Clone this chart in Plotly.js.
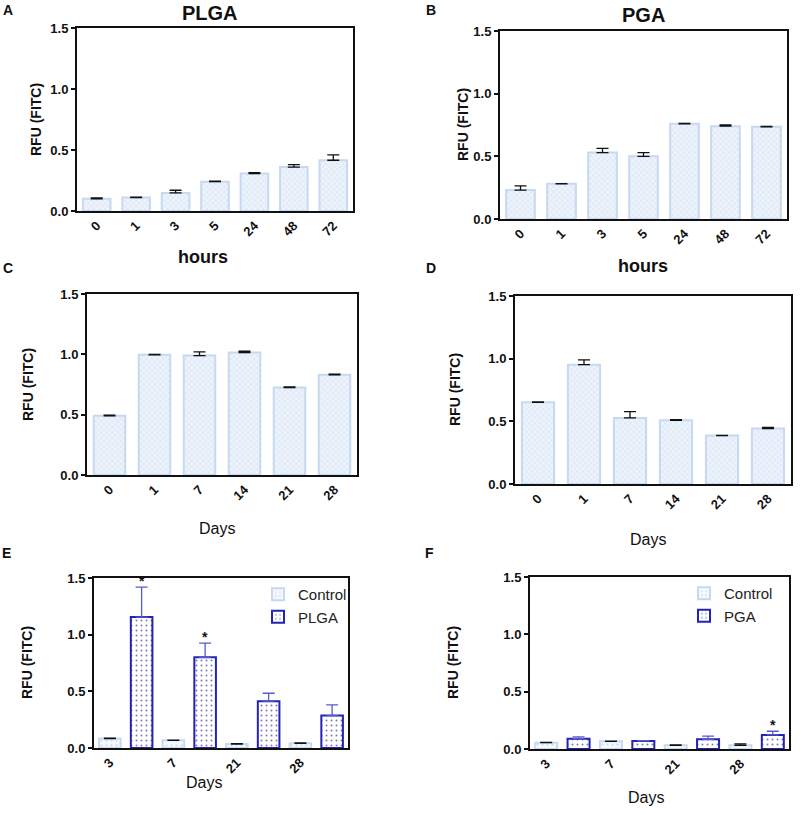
<!DOCTYPE html>
<html>
<head>
<meta charset="utf-8">
<script src="https://cdn.plot.ly/plotly-3.0.1.min.js"></script>
<style>
  html, body { margin: 0; padding: 0; background: #fff; }
  #chart { width: 800px; height: 814px; }
</style>
</head>
<body>
<div id="chart"></div>
<script>
// ===== data =====
const hoursCats = ["0", "1", "3", "5", "24", "48", "72"];
const daysCats = ["0", "1", "7", "14", "21", "28"];
const groupDays = ["3", "7", "21", "28"];

// A: PLGA (hours)
const plgaHours = [0.10, 0.11, 0.148, 0.24, 0.307, 0.36, 0.416];
const plgaHoursErr = [0.007, 0.003, 0.022, 0.004, 0.008, 0.02, 0.044];
// B: PGA (hours)
const pgaHours = [0.231, 0.281, 0.53, 0.50, 0.76, 0.741, 0.736];
const pgaHoursErr = [0.034, 0.002, 0.033, 0.03, 0.003, 0.01, 0.002];
// C: PLGA (days)
const plgaDays = [0.49, 0.996, 0.99, 1.015, 0.725, 0.83];
const plgaDaysErr = [0.006, 0.004, 0.03, 0.012, 0.005, 0.005];
// D: PGA (days)
const pgaDays = [0.652, 0.952, 0.527, 0.508, 0.386, 0.442];
const pgaDaysErr = [0.004, 0.038, 0.05, 0.005, 0.002, 0.01];
// E: Control vs PLGA
const ctrlE = [0.083, 0.068, 0.035, 0.041];
const ctrlEErr = [0.005, 0.002, 0.003, 0.003];
const plgaE = [1.155, 0.80, 0.413, 0.286];
const plgaEErr = [0.265, 0.125, 0.07, 0.094];
const starsE = [true, true, false, false];
// F: Control vs PGA
const ctrlF = [0.055, 0.067, 0.032, 0.032];
const ctrlFErr = [0.003, 0.002, 0.003, 0.012];
const pgaF = [0.09, 0.07, 0.085, 0.123];
const pgaFErr = [0.015, 0.002, 0.028, 0.032];
const starsF = [false, false, false, true];

// ===== helpers =====
const W = 800, H = 814;
const FONT = "Liberation Sans, Arial, sans-serif";
const dx = (a, b) => [a / W, b / W];
const dy = (top, bot) => [1 - bot / H, 1 - top / H];

const LIGHT_LINE = "#c6d9f1";
const DARK_BLUE = "#2323b8";

function lightBar(xs, ys, err, xa, ya, extra) {
  return Object.assign({
    type: "bar", x: xs, y: ys, xaxis: xa, yaxis: ya, width: 0.7,
    marker: {
      color: "#e6eef9",
      line: { color: LIGHT_LINE, width: 2 },
      pattern: { shape: "x", fgcolor: "#bcd2ee", bgcolor: "#edf3fb", size: 4, solidity: 0.15 }
    },
    error_y: { type: "data", symmetric: false, array: err, arrayminus: err.map(() => 0),
               color: "#111", thickness: 1.3, width: 6 },
    showlegend: false, hoverinfo: "skip"
  }, extra || {});
}

function darkBar(xs, ys, err, xa, ya, extra) {
  return Object.assign({
    type: "bar", x: xs, y: ys, xaxis: xa, yaxis: ya, width: 0.68,
    marker: {
      color: "#ffffff",
      line: { color: DARK_BLUE, width: 2 },
      pattern: { shape: ".", fgcolor: "#7a7ab8", bgcolor: "#ffffff", size: 5, solidity: 0.12 }
    },
    error_y: { type: "data", symmetric: false, array: err, arrayminus: err.map(() => 0),
               color: "#5a5ad0", thickness: 1.3, width: 6 },
    showlegend: false, hoverinfo: "skip"
  }, extra || {});
}

function xAxis(domain, anchor, extra) {
  return Object.assign({
    domain: domain, anchor: anchor, type: "category",
    showline: true, mirror: true, linecolor: "#111", linewidth: 2,
    ticks: "", tickangle: -45, tickfont: { family: FONT, size: 13, color: "#111", weight: "bold" },
    showgrid: false, zeroline: false, fixedrange: true
  }, extra || {});
}

function yAxis(domain, anchor) {
  return {
    domain: domain, anchor: anchor, range: [0, 1.5], tickvals: [0, 0.5, 1, 1.5],
    ticktext: ["0.0", "0.5", "1.0", "1.5"],
    showline: true, mirror: true, linecolor: "#111", linewidth: 2,
    ticks: "outside", ticklen: 4, tickwidth: 2, tickcolor: "#111",
    tickfont: { family: FONT, size: 13, color: "#111", weight: "bold" },
    showgrid: false, zeroline: false, fixedrange: true
  };
}

function txt(text, x, y, size, bold, extra) {
  return Object.assign({
    text: text, xref: "paper", yref: "paper", x: x / W, y: 1 - y / H,
    xanchor: "center", yanchor: "middle", showarrow: false,
    font: { family: FONT, size: size, color: "#111", weight: bold ? "bold" : "normal" }
  }, extra || {});
}

function yTitle(x, y) {
  return txt("RFU (FITC)", x, y, 14, true, { textangle: -90 });
}

// group positions for E/F: control at even slots, treated at odd slots
const ctrlPos = groupDays.map((_, i) => 2 * i);
const treatPos = groupDays.map((_, i) => 2 * i + 1);

// ===== traces =====
const ctrlMarker = { color: "#ffffff", line: { color: LIGHT_LINE, width: 2 },
  pattern: { shape: ".", fgcolor: "#c9daf0", bgcolor: "#f5f8fd", size: 5, solidity: 0.15 } };

const traces = [
  lightBar(hoursCats, plgaHours, plgaHoursErr, "x", "y"),
  lightBar(hoursCats, pgaHours, pgaHoursErr, "x2", "y2"),
  lightBar(daysCats, plgaDays, plgaDaysErr, "x3", "y3"),
  lightBar(daysCats, pgaDays, pgaDaysErr, "x4", "y4"),
  lightBar(ctrlPos, ctrlE, ctrlEErr, "x5", "y5",
    { name: "Control", showlegend: true, legend: "legend", width: 0.68, marker: ctrlMarker }),
  darkBar(treatPos, plgaE, plgaEErr, "x5", "y5", { name: "PLGA", showlegend: true, legend: "legend" }),
  lightBar(ctrlPos, ctrlF, ctrlFErr, "x6", "y6",
    { name: "Control", showlegend: true, legend: "legend2", width: 0.68, marker: ctrlMarker }),
  darkBar(treatPos, pgaF, pgaFErr, "x6", "y6", { name: "PGA", showlegend: true, legend: "legend2" })
];

// ===== annotations =====
const annotations = [
  txt("A", 8, 10, 14, true), txt("B", 431, 10, 14, true),
  txt("C", 8, 268, 14, true), txt("D", 431, 268, 14, true),
  txt("E", 6, 553, 14, true), txt("F", 429, 553, 14, true),
  txt("PLGA", 210, 13, 20, true), txt("PGA", 643, 15, 20, true),
  txt("hours", 203, 257, 18, true), txt("hours", 643, 266, 18, true),
  txt("Days", 217, 528, 16, false), txt("Days", 648, 539, 16, false),
  txt("Days", 204, 782, 16, false), txt("Days", 646, 797, 16, false),
  yTitle(36, 120), yTitle(463, 125), yTitle(28, 385), yTitle(455, 390),
  yTitle(27, 663), yTitle(453, 663)
];

function addStars(stars, vals, errs, xa, ya) {
  stars.forEach((s, i) => {
    if (!s) return;
    annotations.push({
      text: "*", xref: xa, yref: ya, x: treatPos[i], y: vals[i] + errs[i],
      xanchor: "center", yanchor: "bottom", showarrow: false, yshift: -4,
      font: { family: FONT, size: 14, color: "#111", weight: "bold" }
    });
  });
}
addStars(starsE, plgaE, plgaEErr, "x5", "y5");
addStars(starsF, pgaF, pgaFErr, "x6", "y6");

const groupTicks = { type: "linear", tickmode: "array", tickvals: ctrlPos, ticktext: groupDays, range: [-0.5, 7.5] };

const legendStyle = {
  orientation: "v", xanchor: "left", yanchor: "top", bgcolor: "rgba(0,0,0,0)",
  font: { family: FONT, size: 15, color: "#222" }, tracegroupgap: 0, itemwidth: 30
};

const layout = {
  width: W, height: H, margin: { l: 0, r: 0, t: 0, b: 0 },
  paper_bgcolor: "#fff", plot_bgcolor: "#fff", barmode: "overlay",
  xaxis: xAxis(dx(77, 353), "y"), yaxis: yAxis(dy(28, 211), "x"),
  xaxis2: xAxis(dx(500, 787), "y2"), yaxis2: yAxis(dy(31, 219), "x2"),
  xaxis3: xAxis(dx(87, 357), "y3"), yaxis3: yAxis(dy(294, 475), "x3"),
  xaxis4: xAxis(dx(515, 791), "y4"), yaxis4: yAxis(dy(296, 484), "x4"),
  xaxis5: xAxis(dx(94, 348), "y5", groupTicks), yaxis5: yAxis(dy(578, 748), "x5"),
  xaxis6: xAxis(dx(530, 789), "y6", groupTicks), yaxis6: yAxis(dy(577, 749), "x6"),
  legend: Object.assign({ x: 258 / W, y: 1 - 578 / H }, legendStyle),
  legend2: Object.assign({ x: 684 / W, y: 1 - 577 / H }, legendStyle),
  annotations: annotations
};

Plotly.newPlot("chart", traces, layout, { displayModeBar: false, staticPlot: true });
</script>
</body>
</html>
